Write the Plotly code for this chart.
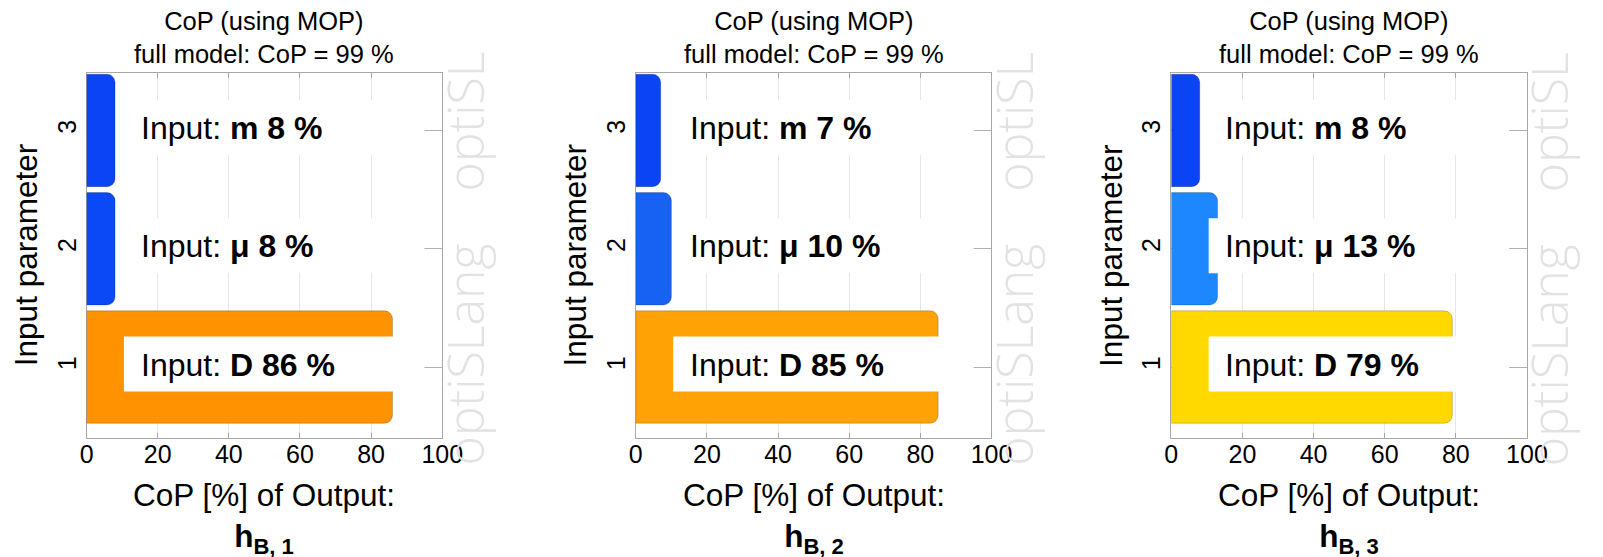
import plotly.graph_objects as go

# ---------------- data ----------------
categories = [1, 2, 3]
input_names = ["D", "μ", "m"]
output_names = ["1", "2", "3"]
cop_out1 = [86, 8, 8]
cop_out2 = [85, 10, 7]
cop_out3 = [79, 13, 8]
full_model_cop = [99, 99, 99]
x_ticks = [0, 20, 40, 60, 80, 100]

panels = [cop_out1, cop_out2, cop_out3]
bar_colors = [
    ["#ff9200", "#0b48f6", "#0a44f4"],
    ["#ffa206", "#1762f2", "#0a44f4"],
    ["#ffd900", "#1d87ff", "#0a44f4"],
]

# ---------------- layout geometry (pixels) ----------------
W, H = 1603, 557
x_dom_px = [(81, 443), (640, 1002), (1185, 1547)]
y_top_px, y_bot_px = 73, 438
y_dom = [1 - y_bot_px / H, 1 - y_top_px / H]
FONT = "Liberation Sans, Arial, Helvetica, sans-serif"

fig = go.Figure()
layout_axes = {}
annotations = []
shapes = []

for i, vals in enumerate(panels):
    k = "" if i == 0 else str(i + 1)
    xa, ya = "x" + k, "y" + k
    x0p, x1p = x_dom_px[i]
    fig.add_trace(go.Bar(
        x=vals, y=categories, orientation="h", width=0.95,
        marker=dict(color=bar_colors[i], cornerradius=8,
                    line=dict(color="rgba(0,0,0,0.25)", width=0.8)),
        xaxis=xa, yaxis=ya, showlegend=False, hoverinfo="x+y",
    ))
    layout_axes["xaxis" + k] = dict(
        domain=[x0p / W, x1p / W], anchor=ya, range=[0, 100],
        tickvals=x_ticks, ticktext=[str(t) for t in x_ticks],
        showgrid=True, gridcolor="#e6e6e6", gridwidth=1,
        zeroline=False, showline=True, linecolor="#a8a8a8", linewidth=1,
        mirror="ticks", ticks="inside", ticklen=5, tickcolor="#a8a8a8",
        tickfont=dict(size=25, color="black", family=FONT),
        ticklabelstandoff=-6, fixedrange=True, layer="below traces",
    )
    layout_axes["yaxis" + k] = dict(
        domain=y_dom, anchor=xa, range=[0.40, 3.486],
        tickvals=categories, ticktext=[str(c) for c in categories],
        tickangle=-90, showgrid=False, zeroline=False,
        showline=True, linecolor="#a8a8a8", linewidth=1,
        mirror="ticks", ticks="inside", ticklen=20, tickcolor="#b0b0b0",
        tickfont=dict(size=25, color="black", family=FONT),
        fixedrange=True, layer="below traces",
    )
    # white label boxes + texts
    for c, name, v in zip(categories, input_names, vals):
        shapes.append(dict(
            type="rect", xref=xa, yref=ya, x0=10.5, x1=95,
            y0=c - 0.2075, y1=c + 0.2575, fillcolor="white",
            line=dict(width=0), layer="above",
        ))
        annotations.append(dict(
            xref=xa, yref=ya, x=14.6, y=c + 0.02, xanchor="left", yanchor="middle",
            text=f"Input: <b>{name} {v} %</b>", showarrow=False,
            font=dict(size=32, color="black", family=FONT),
        ))
    cx = (x0p + x1p) / 2 / W
    # panel title
    annotations.append(dict(
        xref="paper", yref="paper", x=cx, y=1 - 70 / H, xanchor="center", yanchor="bottom",
        text=f"CoP (using MOP)<br>full model: CoP = {full_model_cop[i]} %", showarrow=False,
        font=dict(size=25.5, color="black", family=FONT),
    ))
    # x-axis title
    annotations.append(dict(
        xref="paper", yref="paper", x=cx, y=1 - 475 / H, xanchor="center", yanchor="top",
        text=f"CoP [%] of Output:<br><b>h<sub>B, {output_names[i]}</sub></b>", showarrow=False,
        font=dict(size=31.5, color="black", family=FONT),
    ))
    # y-axis title
    annotations.append(dict(
        xref="paper", yref="paper", x=(x0p - 62) / W, y=(1 - (y_top_px + y_bot_px) / 2 / H),
        xanchor="center", yanchor="middle", textangle=-90,
        text="Input parameter", showarrow=False,
        font=dict(size=31.5, color="black", family=FONT),
    ))
    # watermark
    annotations.append(dict(
        xref="paper", yref="paper", x=(x1p - 14) / W, y=1 - 468 / H,
        xanchor="left", yanchor="bottom", textangle=-90,
        text="optiSLang\u00a0\u00a0\u00a0\u00a0optiSL", showarrow=False,
        font=dict(size=50, color="#e2e2e2", family="Open Sans, Roboto, Liberation Sans", weight=300),
    ))

fig.update_layout(
    width=W, height=H,
    margin=dict(l=0, r=0, t=0, b=0),
    paper_bgcolor="white", plot_bgcolor="white",
    barmode="overlay", bargap=0.05,
    annotations=annotations, shapes=shapes,
    font=dict(family=FONT, color="black"),
    **layout_axes,
)

fig.write_html("out.html")
